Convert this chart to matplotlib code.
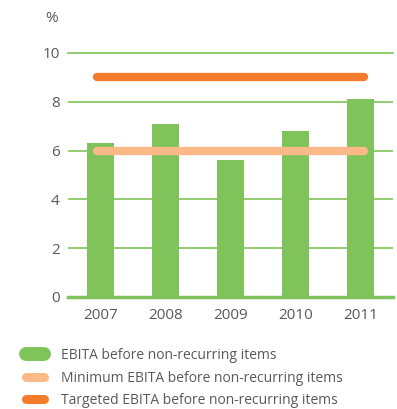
import numpy as np
import matplotlib.pyplot as plt
from matplotlib.lines import Line2D

years = ['2007', '2008', '2009', '2010', '2011']
ebita = [6.3, 7.1, 5.6, 6.8, 8.1]
minimum = 6
target = 9
legend_labels = ['EBITA before non-recurring items',
                 'Minimum EBITA before non-recurring items',
                 'Targeted EBITA before non-recurring items']

green = '#80c35a'
peach = '#fbb987'
orange = '#f47a2c'
grey = '#595959'

plt.rcParams['font.family'] = ['Open Sans', 'DejaVu Sans']

fig = plt.figure(figsize=(3.97, 4.09), dpi=100)
ax = fig.add_axes([68/397, 1-297/409, 325/397, 244/409])

x = np.arange(len(years))
ax.bar(x, ebita, width=0.42, color=green, zorder=2)
ax.plot([x[0]-0.05, x[-1]+0.05], [target, target], color=orange, lw=6,
        solid_capstyle='round', zorder=3)
ax.plot([x[0]-0.05, x[-1]+0.05], [minimum, minimum], color=peach, lw=6,
        solid_capstyle='round', zorder=3)

ax.set_xlim(-0.5, 4.5)
ax.set_ylim(0, 10)
ax.set_yticks([0, 2, 4, 6, 8, 10])
ax.set_xticks(x)
ax.set_xticklabels(years)
ax.yaxis.grid(True, color=green, lw=1.2, zorder=1)
ax.set_axisbelow(True)
for s in ['top', 'right', 'left']:
    ax.spines[s].set_visible(False)
ax.spines['bottom'].set_color(green)
ax.spines['bottom'].set_linewidth(2.5)
ax.spines['bottom'].set_zorder(4)
ax.tick_params(length=0, labelsize=11, colors=grey, pad=6)
ax.tick_params(axis='x', pad=8)
for t in ax.get_yticklabels() + ax.get_xticklabels():
    t.set_color(grey)
ax.yaxis.get_gridlines()[-1].set_clip_on(False)

fig.text(52/397, 1-18/409, '%', ha='center', va='center', color=grey, fontsize=11)

handles = [Line2D([], [], color=green, lw=10, solid_capstyle='round'),
           Line2D([], [], color=peach, lw=6.5, solid_capstyle='round'),
           Line2D([], [], color=orange, lw=6.5, solid_capstyle='round')]
leg = fig.legend(handles, legend_labels, loc='upper left',
                 bbox_to_anchor=(26/397, 1-348/409), frameon=False,
                 fontsize=10, handlelength=1.3, handletextpad=1.2,
                 labelspacing=0.55, borderaxespad=0, borderpad=0)
for t in leg.get_texts():
    t.set_color(grey)

fig.savefig('out.png', dpi=100)
